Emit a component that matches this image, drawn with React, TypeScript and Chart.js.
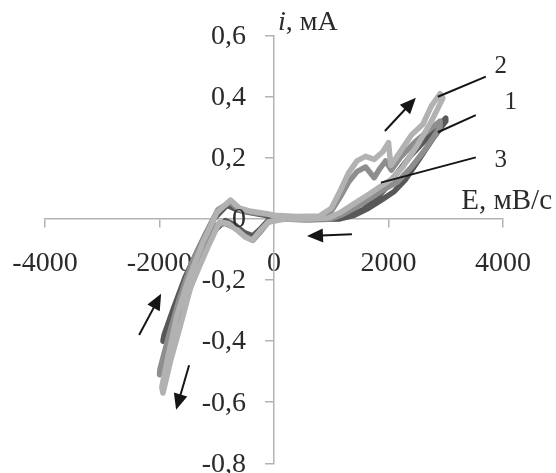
import React, { useEffect, useRef } from "react";
import { Chart, registerables } from "chart.js";

Chart.register(...registerables);

// Axis ticks
const xTicks = [-4000, -2000, 0, 2000, 4000];
const yTicks = [-0.8, -0.6, -0.4, -0.2, 0, 0.2, 0.4, 0.6];

// Curve 1 (dark) : E, mV and i, mA
const curve1E = [0, 500, 1000, 1300, 1550, 1750, 1950, 2150, 2400, 2650, 2850, 3000,
  3000, 2800, 2550, 2300, 2100, 1900, 1650, 1400, 1150, 600, 100,
  -100, -250, -370, -520, -680, -850, -1050, -1300, -1550, -1750, -1940,
  -1920, -1750, -1550, -1300, -1050, -820, -650, -400, -150, 0];
const curve1I = [0.005, 0.0, 0.0, 0.01, 0.03, 0.06, 0.1, 0.15, 0.21, 0.26, 0.3, 0.33,
  0.32, 0.27, 0.2, 0.13, 0.09, 0.065, 0.035, 0.012, 0.0, -0.003, 0.0,
  -0.005, -0.035, -0.055, -0.045, -0.02, -0.005, -0.04, -0.13, -0.22, -0.31, -0.4,
  -0.38, -0.29, -0.19, -0.09, 0.0, 0.045, 0.03, 0.02, 0.012, 0.005];

// Curve 2 (light)
const curve2E = [0, 400, 800, 1000, 1150, 1300, 1450, 1600, 1750, 1900, 2000, 2040, 2150, 2400, 2600, 2750, 2900,
  2950, 2750, 2500, 2250, 2050, 1850, 1650, 1400, 1150, 950, 600, 200,
  -100, -250, -380, -500, -650, -800, -950, -1150, -1450, -1650, -1800, -1940,
  -1960, -1850, -1700, -1500, -1250, -1000, -760, -600, -400, -150, 0];
const curve2I = [0.012, 0.008, 0.01, 0.035, 0.09, 0.15, 0.19, 0.205, 0.195, 0.22, 0.25, 0.175, 0.205, 0.275, 0.31, 0.37, 0.41,
  0.395, 0.32, 0.24, 0.17, 0.13, 0.105, 0.08, 0.05, 0.02, 0.003, 0.0, 0.0,
  -0.01, -0.04, -0.07, -0.06, -0.035, -0.015, -0.01, -0.09, -0.22, -0.36, -0.46, -0.57,
  -0.55, -0.45, -0.32, -0.2, -0.08, 0.02, 0.062, 0.035, 0.025, 0.018, 0.012];

// Curve 3 (medium)
const curve3E = [0, 400, 800, 1000, 1150, 1300, 1450, 1600, 1750, 1850, 1950, 2050, 2200, 2450, 2700, 2900,
  2900, 2650, 2400, 2150, 1950, 1700, 1450, 1200, 1000, 500, 100,
  -100, -250, -370, -520, -680, -850, -1000, -1200, -1450, -1700, -1870, -2000,
  -1990, -1820, -1650, -1450, -1200, -980, -770, -600, -350, -100, 0];
const curve3I = [0.01, 0.005, 0.005, 0.025, 0.07, 0.12, 0.155, 0.17, 0.135, 0.165, 0.19, 0.16, 0.2, 0.25, 0.29, 0.32,
  0.3, 0.23, 0.17, 0.12, 0.1, 0.07, 0.04, 0.015, 0.0, -0.002, 0.0,
  -0.01, -0.045, -0.07, -0.055, -0.03, -0.015, -0.02, -0.1, -0.22, -0.35, -0.44, -0.51,
  -0.49, -0.37, -0.26, -0.15, -0.05, 0.03, 0.055, 0.03, 0.02, 0.015, 0.01];

// Annotations (data units)
const arrowTailE = [1937, 1361, -2356, -1483];
const arrowTailI = [0.288, -0.05, -0.38, -0.479];
const arrowTipE = [2478, 576, -1972, -1710];
const arrowTipI = [0.397, -0.056, -0.245, -0.625];

const curveLabels = ["2", "1", "3"];
const labelE = [3962, 4136, 3962];
const labelI = [0.499, 0.38, 0.192];
const leaderFromE = [3700, 3525, 3525];
const leaderFromI = [0.466, 0.34, 0.2017];
const leaderToE = [2862, 2862, 1867];
const leaderToI = [0.4, 0.284, 0.119];

const FONT = "'Liberation Serif', 'Times New Roman', serif";
const TEXT = "#2b2b2b";
const AXIS = "#b3b3b3";

const toPoints = (es: number[], is: number[]) => es.map((e, k) => ({ x: e, y: is[k] }));

const fmtX = (v: number) => (Math.abs(v) < 1e-9 ? "0" : String(Math.round(v)));
const fmtY = (v: number) => (Math.abs(v) < 1e-9 ? "0" : v.toFixed(1).replace(".", ","));

function drawArrow(ctx: CanvasRenderingContext2D, x1: number, y1: number, x2: number, y2: number) {
  const ang = Math.atan2(y2 - y1, x2 - x1);
  const hl = 16, hw = 7;
  const c = Math.cos(ang), s = Math.sin(ang);
  const bx = x2 - hl * c, by = y2 - hl * s;
  ctx.beginPath();
  ctx.moveTo(x1, y1);
  ctx.lineTo(bx + c * 2, by + s * 2);
  ctx.stroke();
  ctx.beginPath();
  ctx.moveTo(x2, y2);
  ctx.lineTo(bx + hw * s, by - hw * c);
  ctx.lineTo(bx - hw * s, by + hw * c);
  ctx.closePath();
  ctx.fill();
}

const overlay = {
  id: "overlay",
  afterDatasetsDraw(chart: any) {
    const { ctx, scales, chartArea } = chart;
    const x = scales.x, y = scales.y;
    const x0 = x.getPixelForValue(0);
    const y0 = y.getPixelForValue(0);
    ctx.save();
    // y tick labels, placed left of the vertical axis
    ctx.fillStyle = TEXT;
    ctx.textAlign = "right";
    ctx.textBaseline = "middle";
    ctx.font = `28px ${FONT}`;
    for (const v of yTicks) {
      ctx.fillText(fmtY(v), x0 - 28, y.getPixelForValue(v) + 1);
    }
    ctx.strokeStyle = "#151515";
    ctx.fillStyle = "#151515";
    ctx.lineWidth = 2;
    ctx.lineCap = "butt";
    for (let k = 0; k < arrowTailE.length; k++) {
      drawArrow(ctx, x.getPixelForValue(arrowTailE[k]), y.getPixelForValue(arrowTailI[k]),
        x.getPixelForValue(arrowTipE[k]), y.getPixelForValue(arrowTipI[k]));
    }
    for (let k = 0; k < leaderFromE.length; k++) {
      ctx.beginPath();
      ctx.moveTo(x.getPixelForValue(leaderFromE[k]), y.getPixelForValue(leaderFromI[k]));
      ctx.lineTo(x.getPixelForValue(leaderToE[k]), y.getPixelForValue(leaderToI[k]));
      ctx.stroke();
    }
    ctx.fillStyle = TEXT;
    ctx.textAlign = "center";
    ctx.textBaseline = "middle";
    ctx.font = `25px ${FONT}`;
    for (let k = 0; k < curveLabels.length; k++) {
      ctx.fillText(curveLabels[k], x.getPixelForValue(labelE[k]), y.getPixelForValue(labelI[k]));
    }
    // axis titles
    ctx.textAlign = "right";
    ctx.font = `29px ${FONT}`;
    ctx.fillText("E, мВ/с", chartArea.right + 49, y0 - 18);
    ctx.textAlign = "left";
    ctx.font = `italic 28px ${FONT}`;
    const iw = ctx.measureText("i").width;
    ctx.fillText("i", x0 + 4, chartArea.top - 13);
    ctx.font = `28px ${FONT}`;
    ctx.fillText(", мА", x0 + 4 + iw, chartArea.top - 13);
    ctx.restore();
  },
};

const zeroPad = (s: any) => {
  s.paddingLeft = 0;
  s.paddingRight = 0;
  s.paddingTop = 0;
  s.paddingBottom = 0;
};

export default function App() {
  const ref = useRef<HTMLCanvasElement | null>(null);
  useEffect(() => {
    if (!ref.current) return;
    const lineDs = (label: string, pts: any[], color: string) => ({
      label,
      data: pts,
      showLine: true,
      borderColor: color,
      backgroundColor: color,
      borderWidth: 5.5,
      pointRadius: 0,
      tension: 0,
      borderJoinStyle: "round" as const,
      borderCapStyle: "round" as const,
      fill: false,
    });
    const chart = new Chart(ref.current, {
      type: "scatter",
      data: {
        datasets: [
          lineDs("2", toPoints(curve2E, curve2I), "#b2b2b2"),
          lineDs("3", toPoints(curve3E, curve3I), "#8e8e8e"),
          lineDs("1", toPoints(curve1E, curve1I), "#585858"),
        ],
      },
      options: {
        animation: false,
        responsive: true,
        maintainAspectRatio: false,
        layout: { padding: { left: 45, right: 53, top: 35.7, bottom: 9.7 } },
        plugins: { legend: { display: false }, tooltip: { enabled: false } },
        events: [],
        scales: {
          x: {
            type: "linear",
            position: { y: 0 } as any,
            min: -4000,
            max: 4000,
            afterBuildTicks: (s: any) => { s.ticks = xTicks.map((v) => ({ value: v })); },
            afterFit: zeroPad,
            ticks: {
              callback: (v: any) => fmtX(Number(v)),
              font: { family: FONT, size: 28 },
              color: TEXT,
              padding: 20,
              autoSkip: false,
              maxRotation: 0,
            },
            grid: { drawOnChartArea: false, drawTicks: true, tickLength: 8, color: AXIS, lineWidth: 1.5 },
            border: { display: true, color: AXIS, width: 1.5 },
          },
          y: {
            type: "linear",
            position: { x: 0 } as any,
            min: -0.8,
            max: 0.6,
            afterBuildTicks: (s: any) => { s.ticks = yTicks.map((v) => ({ value: v })); },
            afterFit: zeroPad,
            ticks: { display: false },
            grid: { drawOnChartArea: false, drawTicks: true, tickLength: 8, color: AXIS, lineWidth: 1.5 },
            border: { display: true, color: AXIS, width: 1.5 },
          },
        },
      },
      plugins: [overlay],
    });
    return () => chart.destroy();
  }, []);
  return (
    <div style={{ position: "fixed", left: 0, top: 0, width: 556, height: 473, background: "#fff" }}>
      <canvas ref={ref} />
    </div>
  );
}
